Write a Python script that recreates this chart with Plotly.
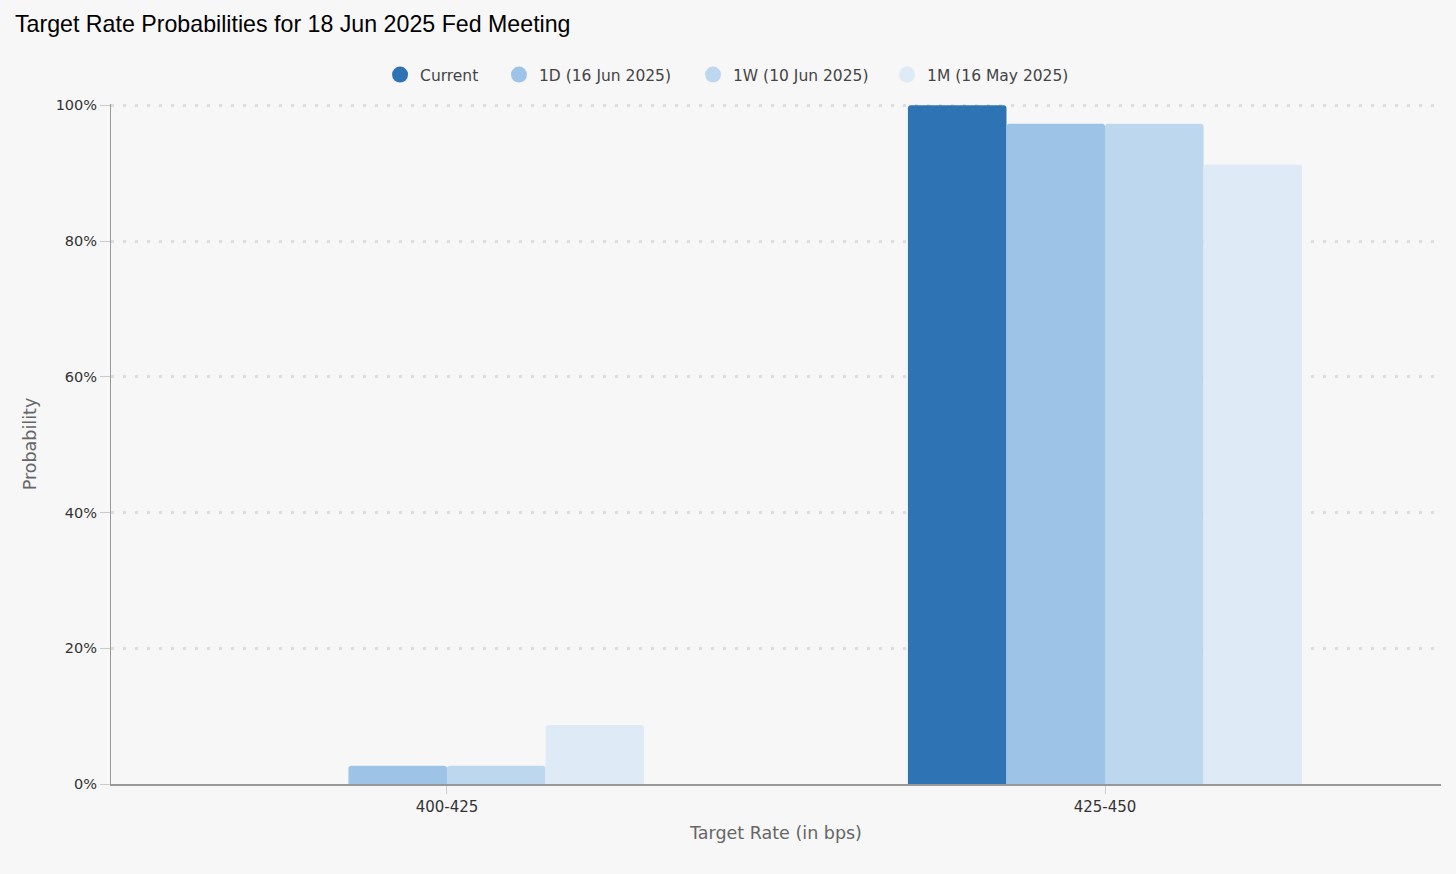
import plotly.graph_objects as go

categories = ["400-425", "425-450"]
series_names = ["Current", "1D (16 Jun 2025)", "1W (10 Jun 2025)", "1M (16 May 2025)"]
current = [0.0, 100.0]
one_day = [2.7, 97.3]
one_week = [2.7, 97.3]
one_month = [8.7, 91.3]
y_ticks = [0, 20, 40, 60, 80, 100]
y_tick_labels = ["0%", "20%", "40%", "60%", "80%", "100%"]
colors = ["#2e74b5", "#9dc3e6", "#bdd7ee", "#deebf7"]
legend_ids = ["legend", "legend2", "legend3", "legend4"]
legend_x = [0.2023, 0.2917, 0.4376, 0.5835]

fig = go.Figure()
for name, vals, c in zip(series_names, [current, one_day, one_week, one_month], colors):
    fig.add_trace(go.Bar(
        x=categories, y=vals, name=name, showlegend=False,
        marker=dict(color=c, line=dict(width=0)),
        hovertemplate="%{x}: %{y:.1f}%<extra>" + name + "</extra>",
    ))
for name, c, lid in zip(series_names, colors, legend_ids):
    fig.add_trace(go.Scatter(
        x=[None], y=[None], mode="markers", name=name, legend=lid,
        marker=dict(symbol="circle", size=16, color=c),
    ))

legend_style = dict(orientation="h", xanchor="left", y=1.0427, yanchor="middle",
                    font=dict(size=15.5, color="#444444"), itemwidth=30,
                    bgcolor="rgba(0,0,0,0)", borderwidth=0)
legends = {lid: dict(x=lx, **legend_style) for lid, lx in zip(legend_ids, legend_x)}

fig.update_layout(
    width=1456, height=874,
    paper_bgcolor="#f7f7f7", plot_bgcolor="#f7f7f7",
    margin=dict(l=111, r=15, t=104, b=90),
    barmode="group", bargap=0.401, bargroupgap=0, barcornerradius=3,
    title=dict(text="Target Rate Probabilities for 18 Jun 2025 Fed Meeting",
               x=0.0103, xanchor="left", y=0.973, yanchor="middle",
               font=dict(family="Liberation Sans, Arial", size=23.2, color="#000000")),
    font=dict(family="DejaVu Sans, sans-serif", color="#333333"),
    showlegend=True,
    **legends,
)
fig.update_xaxes(
    type="category", range=[-0.5106, 1.5106],
    showline=True, linecolor="#999999", linewidth=1.5,
    ticks="outside", ticklen=8, tickcolor="#cccccc", tickwidth=1,
    tickfont=dict(size=15, color="#333333"),
    title=dict(text="Target Rate (in bps)", font=dict(size=17.5, color="#666666"), standoff=12),
    showgrid=False,
)
fig.update_yaxes(
    range=[0, 100.2], tickmode="array", tickvals=y_ticks, ticktext=y_tick_labels,
    showline=True, linecolor="#999999", linewidth=1,
    ticks="outside", ticklen=10, tickcolor="#cccccc",
    tickfont=dict(size=14.5, color="#333333"),
    showgrid=True, gridcolor="#dddddd", gridwidth=2.5, griddash="3px,9px",
    zeroline=False,
    title=dict(text="Probability", font=dict(size=17.5, color="#666666"), standoff=14),
)

fig.write_html("out.html", config={"displayModeBar": False},
               post_script="document.body.style.margin='0';document.body.style.background='#f7f7f7';")
